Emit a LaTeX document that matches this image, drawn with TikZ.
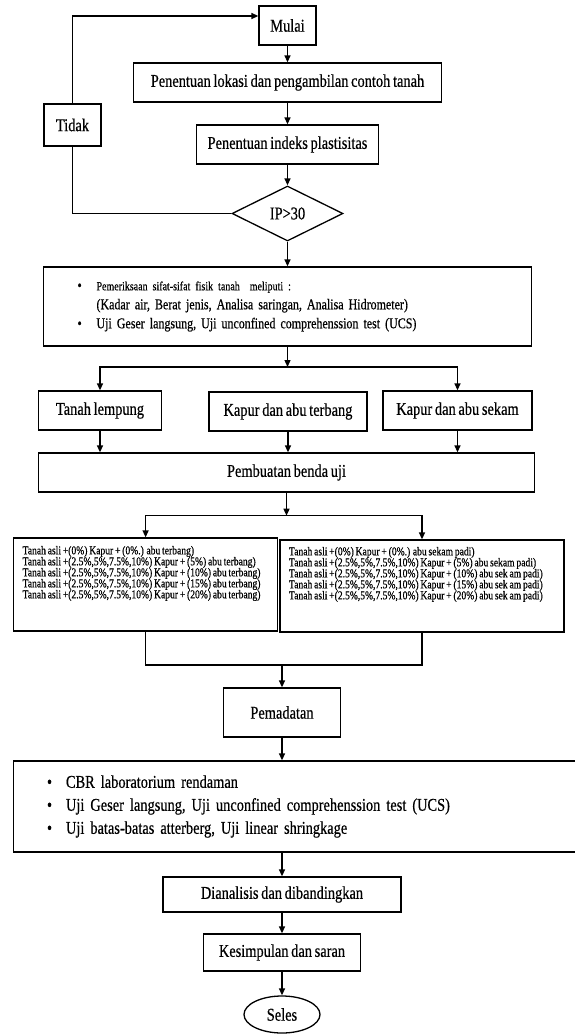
\documentclass[tikz,border=0pt]{standalone}
\usepackage{fontspec}
\setmainfont{Liberation Serif}[FakeStretch=0.8,FakeBold=0.5,WordSpace=0.75]
\usetikzlibrary{arrows.meta,shapes.geometric}
\tikzset{>={Triangle[length=7pt,width=6pt]}}
\newcommand{\flowfont}{\fontsize{18}{20}\selectfont}
\newcommand{\listfont}{\fontsize{15}{19}\selectfont}
\newcommand{\ujifont}{\fontsize{18}{23}\selectfont}
\newcommand{\mixfont}{\fontsize{12}{11}\selectfont}
\newcommand{\itm}{\makebox[19pt][l]{\textbullet}}

\begin{document}
\begin{tikzpicture}[x=1pt,y=-1pt,line width=1.3pt,
    box/.style={draw,fill=white,inner sep=0pt,font=\flowfont},
    mixbox/.style={draw,fill=white,inner ysep=0pt,inner xsep=9pt,font=\mixfont}]
  \useasboundingbox (0,0) rectangle (575,1034);
  % start and the check on IP
  \node[box,minimum width=57pt,minimum height=39pt] (mulai) at (287.5,25.5) {Mulai};
  \node[box,minimum width=308pt,minimum height=39pt] (lokasi) at (287.5,82.5) {Penentuan lokasi dan pengambilan contoh tanah};
  \node[box,minimum width=182pt,minimum height=39pt] (indeks) at (287.5,144.5) {Penentuan indeks plastisitas};
  \node[draw,fill=white,diamond,aspect=2,inner sep=0pt,minimum width=111pt,minimum height=55pt,font=\flowfont] (ip) at (287.5,213.5) {IP>30};
  \node[box,minimum width=57pt,minimum height=42pt] (tidak) at (72.5,125) {Tidak};
  \coordinate (back) at ([yshift=9.5pt]mulai.west);
  \draw[->] (mulai) -- (lokasi);
  \draw[->] (lokasi) -- (indeks);
  \draw[->] (indeks) -- (ip);
  \draw (ip.west) -| (tidak.south);
  \draw[->] (tidak.north) |- (back);
  % tests on the soil
  \node[box,font=\listfont,minimum width=488pt,minimum height=79pt,text width=420pt,align=left] (periksa) at (287.5,306.5)
    {\itm {\fontsize{12.5}{19}\selectfont Pemeriksaan sifat-sifat fisik tanah \ meliputi :}\\
     \hspace*{19pt}(Kadar air, Berat jenis, Analisa saringan, Analisa Hidrometer)\\
     \itm Uji Geser langsung, Uji unconfined comprehenssion test (UCS)};
  \draw[->] (ip.south) -- (periksa.north);
  \coordinate (split1) at (287.5,367);
  \draw[->] (periksa.south) -- (split1);
  % materials
  \node[box,minimum width=123pt,minimum height=39pt] (lempung) at (100,410.5) {Tanah lempung};
  \node[box,minimum width=158pt,minimum height=39pt] (terbang) at (288,411.5) {Kapur dan abu terbang};
  \node[box,minimum width=149pt,minimum height=39pt] (sekam) at (457.5,410.5) {Kapur dan abu sekam};
  \draw[->] (split1) -| (lempung.north);
  \draw[->] (split1) -| (sekam.north);
  \node[box,minimum width=496pt,minimum height=39pt] (pembuatan) at (286.5,472.5) {Pembuatan benda uji};
  \foreach \n in {lempung,terbang,sekam}
    \draw[->] (\n.south) -- (\n.south |- pembuatan.north);
  % mixes
  \coordinate (split2) at (286.5,515.7);
  \draw[->] (pembuatan.south) -- (split2);
  \node[mixbox] (mixA) at (145.6,584.5)
    {\begin{minipage}[c][93pt][t]{246pt}\raggedright\vspace*{8pt}
     Tanah asli +(0\%) Kapur + (0\%.) abu terbang)\\
     Tanah asli +(2.5\%,5\%,7.5\%,10\%) Kapur + (5\%) abu terbang)\\
     Tanah asli +(2.5\%,5\%,7.5\%,10\%) Kapur + (10\%) abu terbang)\\
     Tanah asli +(2.5\%,5\%,7.5\%,10\%) Kapur + (15\%) abu terbang)\\
     Tanah asli +(2.5\%,5\%,7.5\%,10\%) Kapur + (20\%) abu terbang)
     \end{minipage}};
  \node[mixbox] (mixB) at (422,586)
    {\begin{minipage}[c][92pt][t]{266pt}\raggedright\vspace*{7pt}
     Tanah asli +(0\%) Kapur + (0\%.) abu sekam padi)\\
     Tanah asli +(2.5\%,5\%,7.5\%,10\%) Kapur + (5\%) abu sekam padi)\\
     Tanah asli +(2.5\%,5\%,7.5\%,10\%) Kapur + (10\%) abu sek am padi)\\
     Tanah asli +(2.5\%,5\%,7.5\%,10\%) Kapur + (15\%) abu sek am padi)\\
     Tanah asli +(2.5\%,5\%,7.5\%,10\%) Kapur + (20\%) abu sek am padi)
     \end{minipage}};
  \draw[->] (split2) -| (mixA.north);
  \draw[->] (split2) -| (mixB.north);
  \coordinate (join) at (282,665);
  \draw (mixA.south) |- (join) -| (mixB.south);
  % compaction and the lab tests
  \node[box,minimum width=117pt,minimum height=49pt] (pemadatan) at (282,712.5) {Pemadatan};
  \draw[->] (join) -- (pemadatan.north);
  \node[box,font=\ujifont,minimum width=567pt,minimum height=91pt,text width=500pt,align=left] (uji) at (297,806.5)
    {\itm CBR laboratorium rendaman\\
     \itm Uji Geser langsung, Uji unconfined comprehenssion test (UCS)\\
     \itm Uji batas-batas atterberg, Uji linear shringkage};
  \draw[->] (pemadatan.south) -- (pemadatan.south |- uji.north);
  % end
  \node[box,minimum width=238pt,minimum height=35pt] (analisis) at (282,894.5) {Dianalisis dan dibandingkan};
  \node[box,minimum width=157pt,minimum height=37pt] (simpul) at (282,952.5) {Kesimpulan dan saran};
  \node[draw,fill=white,ellipse,inner sep=0pt,minimum width=76pt,minimum height=37pt,font=\flowfont] (seles) at (282,1014.5) {Seles};
  \draw[->] (uji.south -| analisis.north) -- (analisis.north);
  \draw[->] (analisis) -- (simpul);
  \draw[->] (simpul) -- (seles);
\end{tikzpicture}
\end{document}
